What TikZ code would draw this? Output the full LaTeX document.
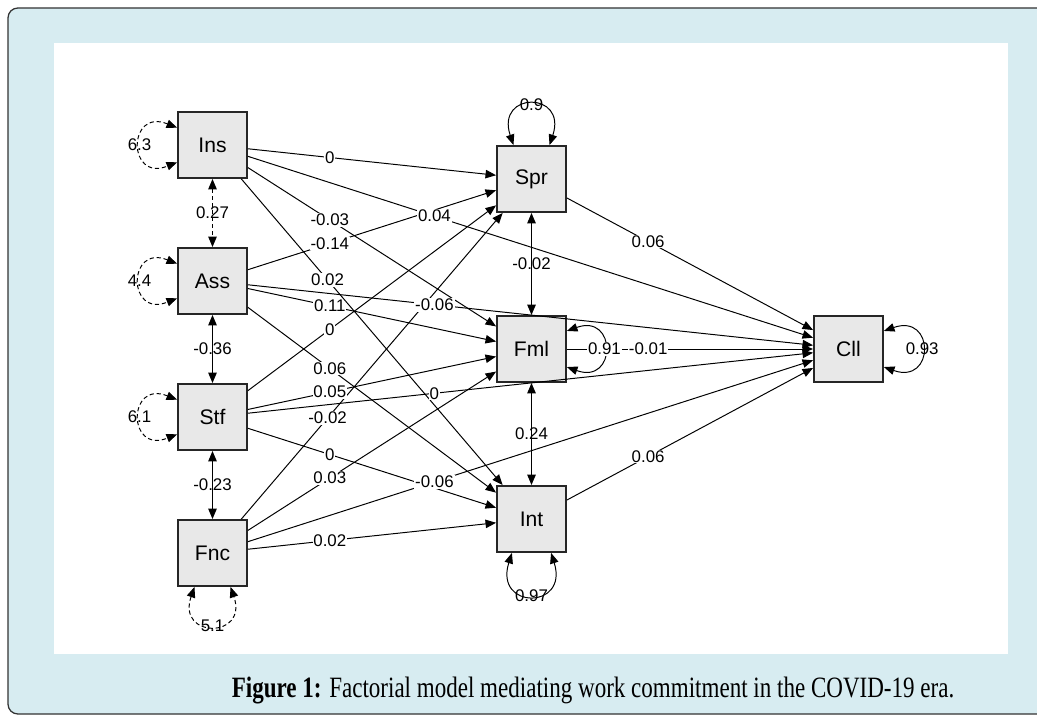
\documentclass[tikz,border=0pt]{standalone}
\usepackage{fontspec}
\setmainfont{Liberation Sans}
\newfontfamily\capfont[FakeStretch=0.78]{Liberation Serif}
\usetikzlibrary{arrows.meta}
\definecolor{frameblue}{RGB}{215,236,241}
\definecolor{boxgrey}{RGB}{232,232,232}

\begin{document}
\begin{tikzpicture}[x=0.025cm,y=-0.025cm,
    var/.style={draw=black!85, fill=boxgrey, line width=1.3pt, minimum width=1.725cm,
      minimum height=1.65cm, inner sep=0pt, font=\fontsize{15}{18}\selectfont},
    reg/.style={line width=0.7pt, -{Triangle[length=7.5pt,width=6pt]}},
    cov/.style={line width=1.1pt, {Triangle[length=7.5pt,width=6pt]}-{Triangle[length=7.5pt,width=6pt]}},
    res/.style={line width=0.7pt, {Triangle[length=7.5pt,width=6pt]}-{Triangle[length=7.5pt,width=6pt]}},
    dsh/.style={dash pattern=on 3pt off 2pt},
    wt/.style={pos=0.33, fill=white, inner sep=0.6pt, font=\fontsize{12}{14}\selectfont},
    wtc/.style={inner sep=0.6pt, font=\fontsize{12}{14}\selectfont}]
  \useasboundingbox (0,0) rectangle (1037,715);
  % page frame
  \fill[frameblue] (1037,8) [rounded corners=7pt] -- (8,8) -- (8,714) [sharp corners] -- (1037,714) -- cycle;
  \draw[black!80, line width=0.9pt, rounded corners=7pt] (1037,8) -- (8,8) -- (8,714) -- (1037,714);
  \fill[white] (54,43) rectangle (1008,654);
  \node[font=\capfont\fontsize{21}{25}\selectfont, anchor=base] (cap) at (593,697)
    {\textbf{Figure 1:} Factorial model mediating work commitment in the COVID-19 era.};

  % variables
  \node[var] (ins) at (212.5,145) {Ins};
  \node[var] (ass) at (212.5,281) {Ass};
  \node[var] (stf) at (212.5,417) {Stf};
  \node[var] (fnc) at (212.5,553) {Fnc};
  \node[var] (spr) at (531.5,179) {Spr};
  \node[var] (fml) at (531.5,349) {Fml};
  \node[var] (int) at (531.5,519) {Int};
  \node[var] (cll) at (848.5,349) {Cll};

  % paths to Spr
  \draw[reg] (ins) -- node[wt]{0} (spr);
  \draw[reg] (ass) -- node[wt]{-0.14} (spr);
  \draw[reg] (stf) -- node[wt]{0} (spr);
  \draw[reg] (fnc) -- node[wt]{-0.02} (spr);
  % paths to Fml
  \draw[reg] (ins) -- node[wt]{-0.03} (fml);
  \draw[reg] (ass) -- node[wt]{0.11} (fml);
  \draw[reg] (stf) -- node[wt]{0.05} (fml);
  \draw[reg] (fnc) -- node[wt]{0.03} (fml);
  % paths to Int
  \draw[reg] (ins) -- node[wt]{0.02} (int);
  \draw[reg] (ass) -- node[wt]{0.06} (int);
  \draw[reg] (stf) -- node[wt]{0} (int);
  \draw[reg] (fnc) -- node[wt]{0.02} (int);
  % paths to Cll
  \draw[reg] (ins) -- node[wt]{0.04} (cll);
  \draw[reg] (ass) -- node[wt]{-0.06} (cll);
  \draw[reg] (stf) -- node[wt]{0} (cll);
  \draw[reg] (fnc) -- node[wt]{-0.06} (cll);
  \draw[reg] (spr) -- node[wt]{0.06} (cll);
  \draw[reg] (fml) -- node[wt]{-0.01} (cll);
  \draw[reg] (int) -- node[wt]{0.06} (cll);

  % covariances
  \draw[cov,dsh] (ins) -- node[wtc]{0.27} (ass);
  \draw[cov] (ass) -- node[wtc]{-0.36} (stf);
  \draw[cov] (stf) -- node[wtc]{-0.23} (fnc);
  \draw[cov] (spr) -- node[wtc]{-0.02} (fml);
  \draw[cov] (fml) -- node[wtc]{0.24} (int);

  % residual variances
  \draw[res,dsh] (ins.154) .. controls +(-50,-20) and +(-50,20) .. node[wtc,pos=0.5]{6.3} (ins.206);
  \draw[res,dsh] (ass.154) .. controls +(-50,-20) and +(-50,20) .. node[wtc,pos=0.5]{4.4} (ass.206);
  \draw[res,dsh] (stf.154) .. controls +(-50,-20) and +(-50,20) .. node[wtc,pos=0.5]{6.1} (stf.206);
  \draw[res,dsh] (fnc.-118) .. controls +(-18,52) and +(18,52) .. node[wtc,pos=0.5]{5.1} (fnc.-62);
  \draw[res] (spr.118) .. controls +(-18,-54) and +(18,-54) .. node[wtc,pos=0.5]{0.9} (spr.62);
  \draw[res] (fml.27.5) .. controls +(50,-18) and +(50,18) .. node[wtc,fill=white,pos=0.5]{0.91} (fml.-27.5);
  \draw[res] (int.-120) .. controls +(-18,57) and +(18,57) .. node[wtc,pos=0.5]{0.97} (int.-60);
  \draw[res] (cll.27.5) .. controls +(51,-18) and +(51,18) .. node[wtc,pos=0.5]{0.93} (cll.-27.5);
\end{tikzpicture}
\end{document}
